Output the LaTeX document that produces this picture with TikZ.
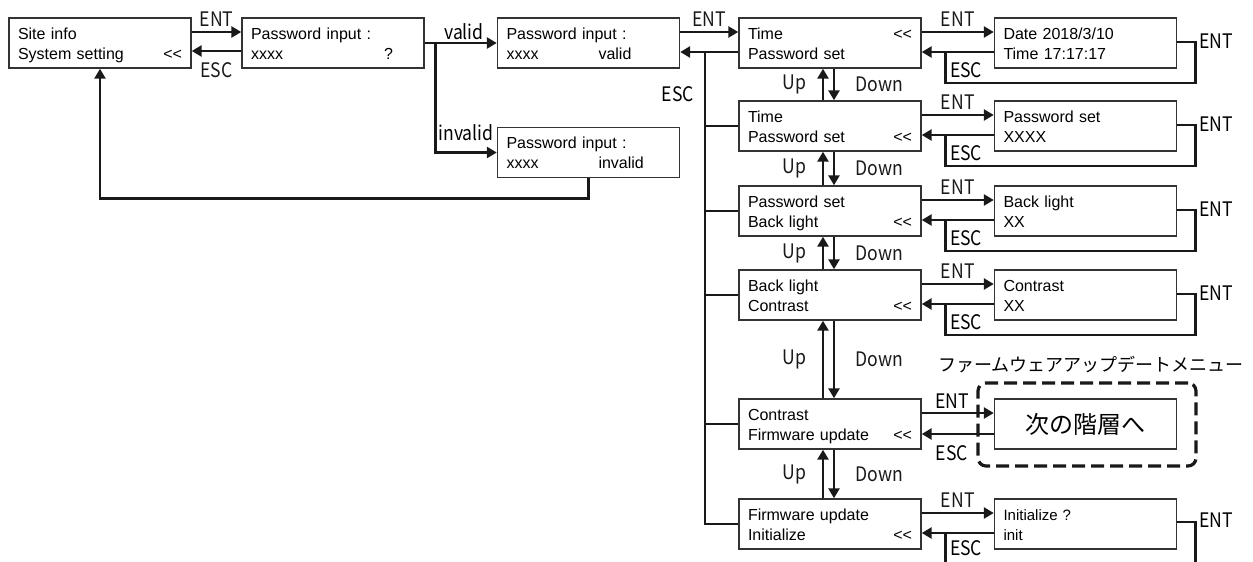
\documentclass[tikz,border=0pt]{standalone}
\usepackage{fontspec}
\setmainfont{Liberation Sans}
\newfontfamily\keyfont[FakeStretch=0.88]{Noto Sans CJK JP}
\newfontfamily\jpfont{Noto Sans CJK JP}
\usetikzlibrary{arrows.meta}
\newcommand{\sel}{<\kern0pt<}
\newcommand{\lcdline}[2]{\makebox[164pt][l]{#1\hfill#2}}
\newcommand{\lcd}[2]{\rule{0pt}{16pt}#1\\\rule[-4pt]{0pt}{4pt}#2}

\begin{document}
\begin{tikzpicture}[x=1pt,y=-1pt,
  lcd/.style={draw=black!80,line width=1.4pt,minimum width=182pt,minimum height=50pt,
    inner sep=0pt,text width=164pt,align=left,font=\fontsize{16}{20}\selectfont},
  link/.style={line width=2.9pt,black!90},
  tip/.style={link,-{Triangle[length=10pt,width=11pt]}},
  keylbl/.style={inner sep=0pt,font=\keyfont\fontsize{20}{22}\selectfont}]
  \useasboundingbox (0,0) rectangle (1253,562);

  \node[lcd] (A) at (100,43) {\lcd{Site info}{\lcdline{System setting}{\sel}}};
  \node[lcd] (B) at (333,43) {\lcd{Password input :}{\makebox[133pt][l]{xxxx}?}};
  \node[lcd] (C) at (588.5,43) {\lcd{Password input :}{\makebox[92pt][l]{xxxx}valid}};
  \node[lcd] (D) at (588.5,152.5) {\lcd{Password input :}{\makebox[92pt][l]{xxxx}invalid}};

  \node[lcd] (M1) at (830,43) {\lcd{\lcdline{Time}{\sel}}{Password set}};
  \node[lcd] (M2) at (830,126) {\lcd{Time}{\lcdline{Password set}{\sel}}};
  \node[lcd] (M3) at (830,211) {\lcd{Password set}{\lcdline{Back light}{\sel}}};
  \node[lcd] (M4) at (830,295) {\lcd{Back light}{\lcdline{Contrast}{\sel}}};
  \node[lcd] (M5) at (830,424) {\lcd{Contrast}{\lcdline{Firmware update}{\sel}}};
  \node[lcd] (M6) at (830,524) {\lcd{Firmware update}{\lcdline{Initialize}{\sel}}};

  \node[lcd] (S1) at (1085.5,43) {\lcd{Date 2018/3/10}{Time 17:17:17}};
  \node[lcd] (S2) at (1085.5,126) {\lcd{Password set}{XXXX}};
  \node[lcd] (S3) at (1085.5,211) {\lcd{Back light}{XX}};
  \node[lcd] (S4) at (1085.5,295) {\lcd{Contrast}{XX}};
  \node[lcd,align=center,font=\jpfont\fontsize{24}{28}\selectfont] (S5) at (1085.5,424) {次の階層へ};
  \node[lcd,font=\fontsize{15}{20}\selectfont] (S6) at (1085.5,524) {\lcd{Initialize ?}{init}};

  % firmware sub menu
  \node[draw=black!90,line width=3.2pt,dash pattern=on 13pt off 6pt,rounded corners=8pt,
    minimum width=218pt,minimum height=83pt] (fwgrp) at (1087,424.5) {};
  \node[font=\jpfont\fontsize{18}{20}\selectfont,inner sep=0pt] (fwttl) at (1091,365) {ファームウェアアップデートメニュー};

  % password
  \draw[tip] ([yshift=11pt]A.east) -- node[keylbl,above=4pt] (e0) {ENT} ([yshift=11pt]B.west);
  \draw[tip] ([yshift=-8pt]B.west) -- node[keylbl,below=10pt] (x0) {ESC} ([yshift=-8pt]A.east);
  \draw[tip] (B.east) -- (C.west);
  \draw[tip] (B.east) -- ++(11,0) |- (D.west);
  \node[keylbl,anchor=base] (vl) at (464,39) {valid};
  \node[keylbl,anchor=base] (il) at (466,140) {invalid};
  \draw[tip] (D.south) -- ++(0,20) -| (A.south);

  % setting menu
  \draw[tip] ([yshift=11pt]C.east) -- node[keylbl,above=4pt] (ec) {ENT} ([yshift=11pt]M1.west);
  \coordinate (m1esc) at ([yshift=-9pt]M1.west);
  \coordinate (bus) at (705,0);
  \draw[tip] (m1esc) -- ([yshift=-9pt]C.east);
  \draw[link] (bus |- m1esc) -- (bus |- M6.west) -- (M6.west);
  \foreach \m in {M2,M3,M4,M5} \draw[link] (bus |- \m.west) -- (\m.west);
  \node[keylbl] (xc) at (678,94) {ESC};

  \foreach \a/\b in {M1/M2,M2/M3,M3/M4,M4/M5,M5/M6} {
    \draw[tip] ([xshift=-7pt]\b.north) -- node[keylbl,midway,left=15pt] (u\a) {Up} ([xshift=-7pt]\a.south);
    \draw[tip] ([xshift=4pt]\a.south) -- node[keylbl,midway,right=20pt] (d\a) {Down} ([xshift=4pt]\b.north);
  }

  \foreach \r in {1,2,3,4} {
    \draw[tip] ([yshift=11pt]M\r.east) -- node[keylbl,above=4pt] (e\r) {ENT} ([yshift=11pt]S\r.west);
    \draw[tip] ([yshift=-9pt]S\r.west) -- ([yshift=-9pt]M\r.east);
    \draw[link] ([yshift=1pt]S\r.east) -- ++(18,0) -- ++(0,41) -| ([xshift=-48pt,yshift=-9pt]S\r.west);
    \node[keylbl,anchor=west] (er\r) at ([xshift=22pt,yshift=2pt]S\r.east) {ENT};
    \node[keylbl,anchor=west] (x\r) at ([xshift=-44pt,yshift=-27pt]S\r.west) {ESC};
  }

  \draw[tip] ([yshift=11pt]M5.east) -- ([yshift=11pt]S5.west);
  \draw[tip] ([yshift=-10pt]S5.west) -- ([yshift=-10pt]M5.east);
  \node[keylbl] (e5) at (952,401) {ENT};
  \node[keylbl] (x5) at (952,453) {ESC};

  \draw[tip] ([yshift=11pt]M6.east) -- node[keylbl,above=4pt] (e6) {ENT} ([yshift=11pt]S6.west);
  \draw[tip] ([yshift=-9pt]S6.west) -- ([yshift=-9pt]M6.east);
  \draw[link] ([yshift=2pt]S6.east) -- ++(18,0) -- ++(0,40);
  \draw[link] ([xshift=-48pt,yshift=-9pt]S6.west) -- ++(0,29);
  \node[keylbl,anchor=west] (er6) at ([xshift=22pt,yshift=4pt]S6.east) {ENT};
  \node[keylbl,anchor=west] (x6) at ([xshift=-44pt,yshift=-24pt]S6.west) {ESC};
\end{tikzpicture}
\end{document}
